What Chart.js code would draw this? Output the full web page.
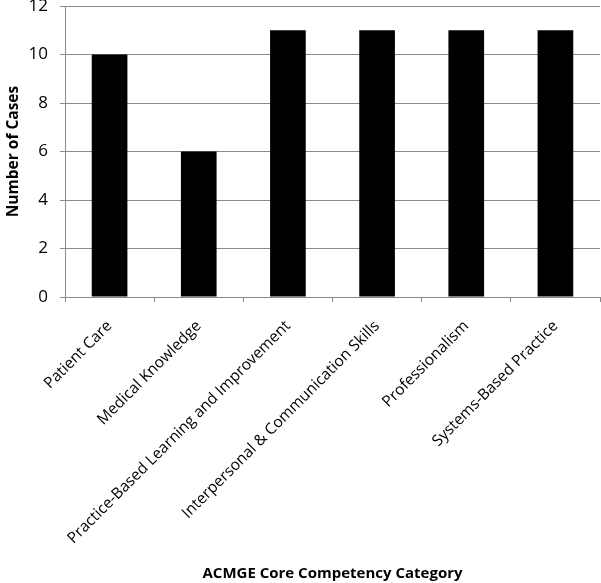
<!DOCTYPE html>
<html>
<head>
<meta charset="utf-8">
<script src="https://cdn.jsdelivr.net/npm/chart.js@4"></script>
<style>
  html, body { margin: 0; padding: 0; background: #fff; }
  #wrap { width: 601px; height: 583px; }
</style>
</head>
<body>
<div id="wrap"><canvas id="chart" width="601" height="583"></canvas></div>
<script>
// categories and counts
const categories = [
    "Patient Care",
    "Medical Knowledge",
    "Practice-Based Learning and Improvement",
    "Interpersonal & Communication Skills",
    "Professionalism",
    "Systems-Based Practice"
];
const cases = [10, 6, 11, 11, 11, 11];
const yTicks = [0, 2, 4, 6, 8, 10, 12];

const FONT = "'Open Sans', 'Liberation Sans', sans-serif";
const GRID = "#8a8a8a";

const ctx = document.getElementById("chart").getContext("2d");

new Chart(ctx, {
    type: "bar",
    data: {
        labels: categories,
        datasets: [
            {
                label: "Number of Cases",
                data: cases,
                backgroundColor: "#000000",
                borderWidth: 0,
                barPercentage: 0.8,
                categoryPercentage: 0.5,
            },
        ],
    },
    options: {
        responsive: false,
        animation: false,
        layout: { padding: { top: 6, right: 1, left: 0, bottom: 0 } },
        plugins: {
            legend: { display: false },
            tooltip: { enabled: false },
        },
        scales: {
            x: {
                grid: {
                    display: true,
                    drawOnChartArea: false,
                    drawTicks: true,
                    tickLength: 5,
                    color: GRID,
                },
                border: { color: GRID, width: 1 },
                ticks: {
                    color: "#000",
                    font: { family: FONT, size: 15.5 },
                    maxRotation: 45,
                    minRotation: 45,
                    autoSkip: false,
                    padding: 15,
                },
                title: {
                    display: true,
                    text: "ACMGE Core Competency Category",
                    color: "#000",
                    font: { family: FONT, size: 15, weight: "bold" },
                    padding: { top: 0, bottom: 0 },
                },
                afterFit: function (scale) {
                    scale.height = 286;
                },
            },
            y: {
                min: 0,
                max: 12,
                afterBuildTicks: function (scale) {
                    scale.ticks = yTicks.map((v) => ({ value: v }));
                },
                grid: {
                    color: GRID,
                    tickLength: 5,
                },
                border: { color: GRID, width: 1 },
                ticks: {
                    color: "#000",
                    font: { family: FONT, size: 17 },
                    padding: 12,
                },
                title: {
                    display: true,
                    text: "Number of Cases",
                    color: "#000",
                    font: { family: FONT, size: 15.5, weight: "bold" },
                    padding: { top: 4, bottom: 0 },
                },
                afterFit: function (scale) {
                    scale.width = 65;
                    scale.paddingTop = 0;
                    scale.paddingBottom = 0;
                },
            },
        },
    },
});
</script>
</body>
</html>
